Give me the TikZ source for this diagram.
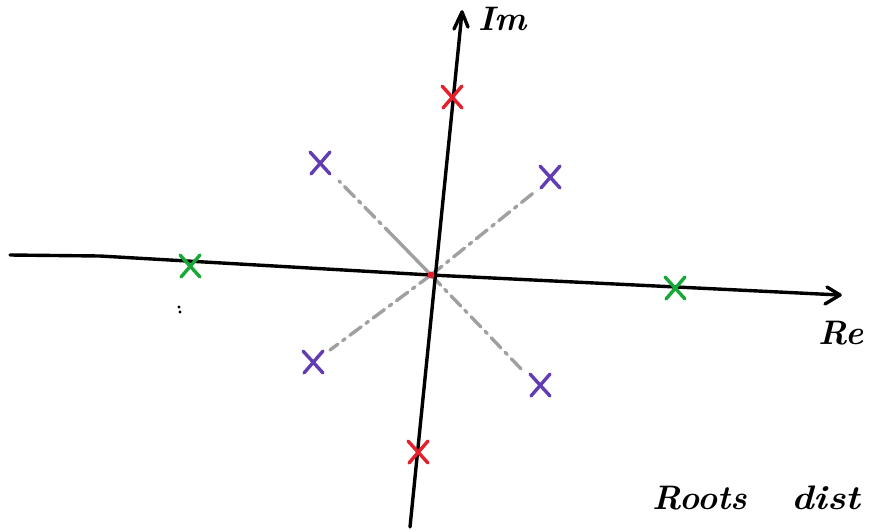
\documentclass[tikz,border=0pt]{standalone}
\usetikzlibrary{arrows.meta}
\definecolor{rootred}{RGB}{228,32,44}
\definecolor{rootgreen}{RGB}{24,168,56}
\definecolor{rootpurple}{RGB}{98,60,178}
\definecolor{guide}{RGB}{160,160,160}
\tikzset{
  axisline/.style={line width=3.4pt, line cap=round, line join=round},
  rootmark/.style={line width=3.4pt, line cap=round},
  guideline/.style={guide, line width=3.4pt, dash pattern=on 14pt off 6pt on 3pt off 6pt, line cap=round},
  hand/.style={font=\fontsize{34}{40}\selectfont\bfseries\itshape, inner sep=0pt, anchor=west}
}
\newcommand{\xmark}[3]{%
  \draw[rootmark,#3] (#1-10,#2-11) -- (#1+10,#2+11);
  \draw[rootmark,#3] (#1+10,#2-11) -- (#1-9,#2+11);}
\begin{document}
\begin{tikzpicture}[x=1pt,y=-1pt]
\useasboundingbox (0,0) rectangle (875,531);
% named points
\coordinate (o) at (431,275);
\coordinate (reStart) at (10,255);
\coordinate (reBend) at (100,256);
\coordinate (reEnd) at (840,295);
\coordinate (imStart) at (410,527);
\coordinate (imEnd) at (462,12);
\coordinate (q1) at (395,238);
\coordinate (p1) at (339,181);
\coordinate (p2) at (537,190);
\coordinate (p3) at (330,350);
\coordinate (p4) at (525,373);
% guide lines
\draw[guide, line width=3.4pt, line cap=round] (o) -- (q1);
\draw[guideline] (q1) -- (p1);
\draw[guideline] (o) -- (p2);
\draw[guideline] (o) -- (p3);
\draw[guideline] (o) -- (p4);
% axes
\draw[axisline] (reStart) -- (reBend) -- (o) -- (reEnd);
\draw[axisline] (827,287) -- (reEnd) -- (825,304);
\draw[axisline] (imStart) -- (imEnd);
\draw[axisline] (454,29) -- (imEnd) -- (468,27);
% center dot
\fill[rootred] (o) circle (3.5pt);
% roots
\xmark{452}{97}{rootred}
\xmark{418}{452}{rootred}
\xmark{190}{266}{rootgreen}
\xmark{675}{288}{rootgreen}
\xmark{320}{163}{rootpurple}
\xmark{550}{177}{rootpurple}
\xmark{313}{362}{rootpurple}
\xmark{540}{385}{rootpurple}
% stray dots
\fill (179,307) circle (1.6pt);
\fill (180,312) circle (1.6pt);
% labels
\node[hand] (im) at (478,19) {Im};
\node[hand] (re) at (818,333) {Re};
\node[hand] (roots) at (652,498) {Roots\hspace{44pt}\scalebox{1.12}[1]{dist}};
\end{tikzpicture}
\end{document}
